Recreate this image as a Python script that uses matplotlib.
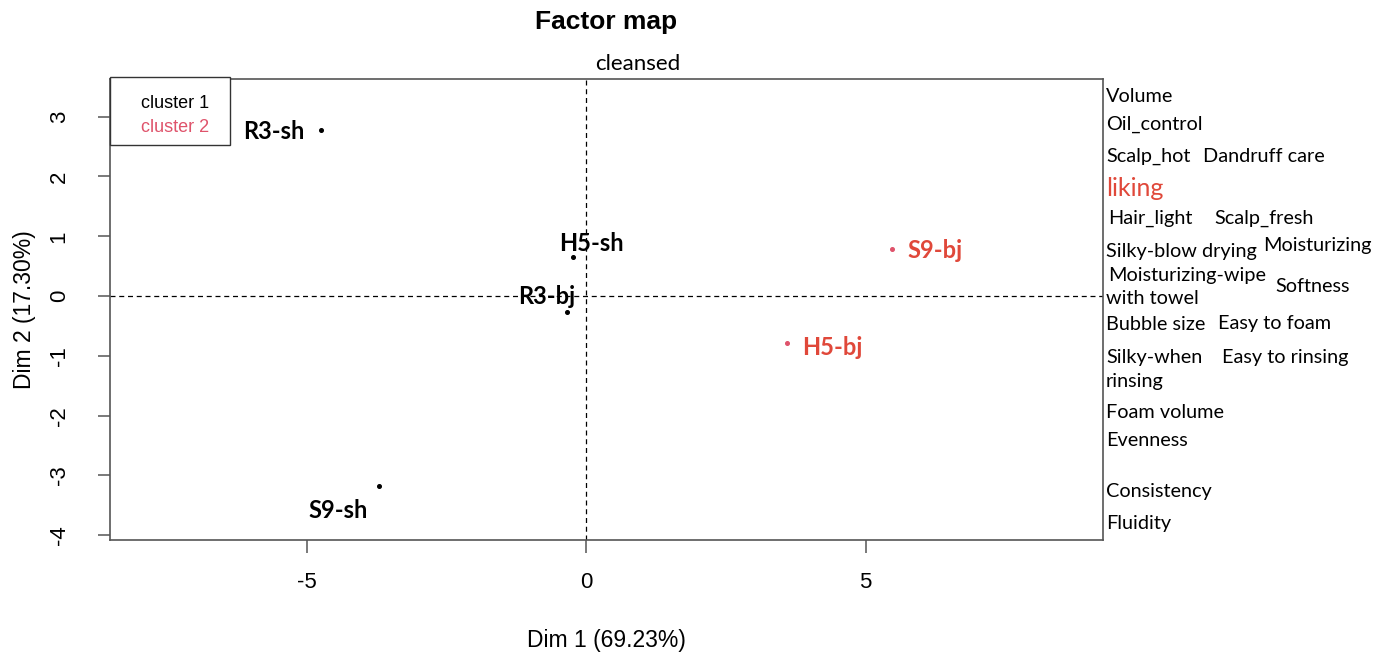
import matplotlib
matplotlib.use("Agg")
import matplotlib.pyplot as plt
from matplotlib.patches import Rectangle

# ---- data ----
products = ["R3-sh", "H5-sh", "R3-bj", "S9-sh", "S9-bj", "H5-bj"]
dim1 = [-4.74, -0.24, -0.35, -3.70, 5.47, 3.60]
dim2 = [2.78, 0.65, -0.26, -3.17, 0.78, -0.79]
cluster = [1, 1, 1, 1, 2, 2]
cluster_names = ["cluster 1", "cluster 2"]

x_ticks = [-5, 0, 5]
y_ticks = [-4, -3, -2, -1, 0, 1, 2, 3]

# attribute words listed on the right side of the map
attributes = ["Volume", "Oil_control", "Scalp_hot", "Dandruff care", "liking",
              "Hair_light", "Scalp_fresh", "Silky-blow drying", "Moisturizing",
              "Moisturizing-wipe", "with towel", "Softness", "Bubble size",
              "Easy to foam", "Silky-when", "rinsing", "Easy to rinsing",
              "Foam volume", "Evenness", "Consistency", "Fluidity"]

# ---- layout / style ----
W, H = 1384, 655
fig = plt.figure(figsize=(W / 100, H / 100), dpi=100)
ax = fig.add_axes([110 / W, 1 - 540 / H, (1103 - 110) / W, (540 - 79) / H])

ax.set_xlim(-8.52, 9.25)
ax.set_ylim(-4.08, 3.63)

dot_col = {1: "black", 2: "#DF536B"}
lab_col = {1: "black", 2: "#E0483A"}
label_off = {  # pixel offsets of label centres from their points
    "R3-sh": (-47, -2), "H5-sh": (19, 14), "R3-bj": (-20, 15),
    "S9-sh": (-41, -25), "S9-bj": (43, -1), "H5-bj": (45, -4),
}

ax.axhline(0, color="black", lw=0.9, ls=(0, (4, 3)))
ax.axvline(0, color="black", lw=0.9, ls=(0, (4, 3)))

for name, x, y, c in zip(products, dim1, dim2, cluster):
    ax.plot([x], [y], "o", ms=2.6, color=dot_col[c], zorder=3)
    dx, dy = label_off[name]
    ax.annotate(name, (x, y), xytext=(dx * 0.72, dy * 0.72), textcoords="offset points",
                ha="center", va="center", fontsize=17, fontweight="bold",
                color=lab_col[c], family="Lato")

for s in ax.spines.values():
    s.set_color("#555555")
    s.set_linewidth(1.2)

ax.set_xticks(x_ticks)
ax.set_yticks(y_ticks)
ax.set_xticklabels([str(v) for v in x_ticks], fontsize=16, family="Liberation Sans")
ax.set_yticklabels([str(v) for v in y_ticks], fontsize=16, family="Liberation Sans",
                   rotation=90, va="center")
ax.tick_params(axis="both", length=9, width=1.1, color="#555555")
ax.tick_params(axis="x", pad=14)
ax.tick_params(axis="y", pad=20)

ax.set_xlabel("Dim 1 (69.23%)", fontsize=16.5, family="Liberation Sans", labelpad=26)
ax.set_ylabel("Dim 2 (17.30%)", fontsize=16.5, family="Liberation Sans", labelpad=9)

fig.text(606 / W, 1 - 22 / H, "Factor map", ha="center", va="center",
         fontsize=19, fontweight="bold", family="Liberation Sans")
fig.text(638 / W, 1 - 64 / H, "cleansed", ha="center", va="center",
         fontsize=16, family="Lato")

# legend box (R-style, drawn in figure pixels)
fig.patches.append(Rectangle((110 / W, 1 - 145 / H), 120 / W, 68 / H,
                             transform=fig.transFigure, fill=True, facecolor="white",
                             edgecolor="#333333", lw=1.0, zorder=5))
for name, yy, col in zip(cluster_names, [103, 127], ["black", "#DF536B"]):
    fig.text(141 / W, 1 - yy / H, name, ha="left", va="center", fontsize=13,
             family="Liberation Sans", color=col, zorder=6)

# right-hand attribute labels (pixel positions)
attr_pos = {
    "Volume": (1106, 96), "Oil_control": (1106, 124),
    "Scalp_hot": (1106, 156), "Dandruff care": (1203, 156),
    "liking": (1106, 189),
    "Hair_light": (1108, 218), "Scalp_fresh": (1214, 218),
    "Silky-blow drying": (1106, 251), "Moisturizing": (1263, 246),
    "Moisturizing-wipe": (1108, 276), "with towel": (1106, 298),
    "Softness": (1275, 287),
    "Bubble size": (1106, 324), "Easy to foam": (1218, 324),
    "Silky-when": (1106, 357), "rinsing": (1106, 382),
    "Easy to rinsing": (1222, 357),
    "Foam volume": (1106, 412), "Evenness": (1106, 441),
    "Consistency": (1106, 492), "Fluidity": (1106, 524),
}
for w in attributes:
    xx, yy = attr_pos[w]
    if w == "liking":
        fig.text(xx / W, 1 - yy / H, w, ha="left", va="center", fontsize=18,
                 color="#E0483A", family="Lato")
    else:
        fig.text(xx / W, 1 - yy / H, w, ha="left", va="center", fontsize=14.3,
                 color="black", family="Lato")

fig.savefig("out.png", dpi=100)
